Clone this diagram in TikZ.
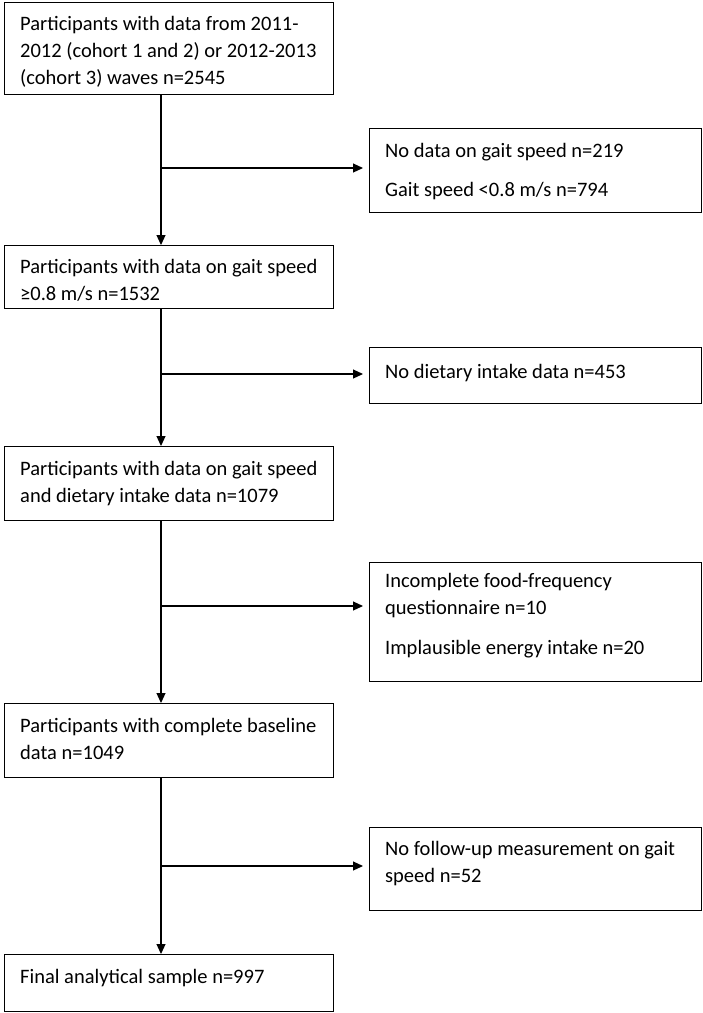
\documentclass[tikz,border=0pt]{standalone}
\usepackage{fontspec}
\setmainfont{Carlito}
\usetikzlibrary{arrows.meta}
\tikzset{
  box/.style={draw, line width=1.2pt, rectangle, anchor=north west, inner sep=0pt},
  txt/.style={anchor=base west, inner sep=0pt, font=\fontsize{20.5}{27}\selectfont},
  arr/.style={line width=1.1pt, -{Triangle[length=10pt,width=9pt]}},
  ln/.style={line width=1.1pt}
}
\begin{document}
\begin{tikzpicture}[x=1pt,y=-1pt]
\useasboundingbox (0,0) rectangle (703,1013);
% main boxes
\node[box, minimum width=329pt, minimum height=92pt] (b1) at (4,2) {};
\node[box, minimum width=329pt, minimum height=63pt] (b2) at (4,245) {};
\node[box, minimum width=329pt, minimum height=74pt] (b3) at (4,446) {};
\node[box, minimum width=329pt, minimum height=74pt] (b4) at (4,703) {};
\node[box, minimum width=329pt, minimum height=57pt] (b5) at (4,954) {};
% side boxes
\node[box, minimum width=332pt, minimum height=84pt] (s1) at (369,128) {};
\node[box, minimum width=332pt, minimum height=56pt] (s2) at (369,347) {};
\node[box, minimum width=332pt, minimum height=119pt] (s3) at (369,562) {};
\node[box, minimum width=332pt, minimum height=83pt] (s4) at (369,827) {};
% texts
\node[txt] (b1t) at (20,30) {\parbox[t]{310pt}{Participants with data from 2011-\\2012 (cohort 1 and 2) or 2012-2013\\(cohort 3) waves n=2545}};
\node[txt] (b2t) at (20,273) {\parbox[t]{310pt}{Participants with data on gait speed\\≥0.8 m/s n=1532}};
\node[txt] (b3t) at (20,475) {\parbox[t]{310pt}{Participants with data on gait speed\\and dietary intake data n=1079}};
\node[txt] (b4t) at (20,732) {\parbox[t]{310pt}{Participants with complete baseline\\data n=1049}};
\node[txt] (b5t) at (20,983) {Final analytical sample n=997};
\node[txt] (s1t) at (385,157) {\parbox[t]{310pt}{No data on gait speed n=219\\[12pt]Gait speed <0.8 m/s n=794}};
\node[txt] (s2t) at (385,378) {No dietary intake data n=453};
\node[txt] (s3t) at (385,587) {\parbox[t]{310pt}{Incomplete food-frequency\\questionnaire n=10\\[13pt]Implausible energy intake n=20}};
\node[txt] (s4t) at (385,855) {\parbox[t]{310pt}{No follow-up measurement on gait\\speed n=52}};
% junctions
\coordinate (j1) at (161,168);
\coordinate (j2) at (161,374);
\coordinate (j3) at (161,606);
\coordinate (j4) at (161,866);
% trunk arrows
\draw[arr] (b1.south -| j1) -- (b2.north -| j1);
\draw[arr] (b2.south -| j2) -- (b3.north -| j2);
\draw[arr] (b3.south -| j3) -- (b4.north -| j3);
\draw[arr] (b4.south -| j4) -- (b5.north -| j4);
% branch arrows
\draw[arr, shorten >=6pt] (j1) -- (s1.west |- j1);
\draw[arr, shorten >=6pt] (j2) -- (s2.west |- j2);
\draw[arr, shorten >=6pt] (j3) -- (s3.west |- j3);
\draw[arr, shorten >=6pt] (j4) -- (s4.west |- j4);
\end{tikzpicture}
\end{document}
